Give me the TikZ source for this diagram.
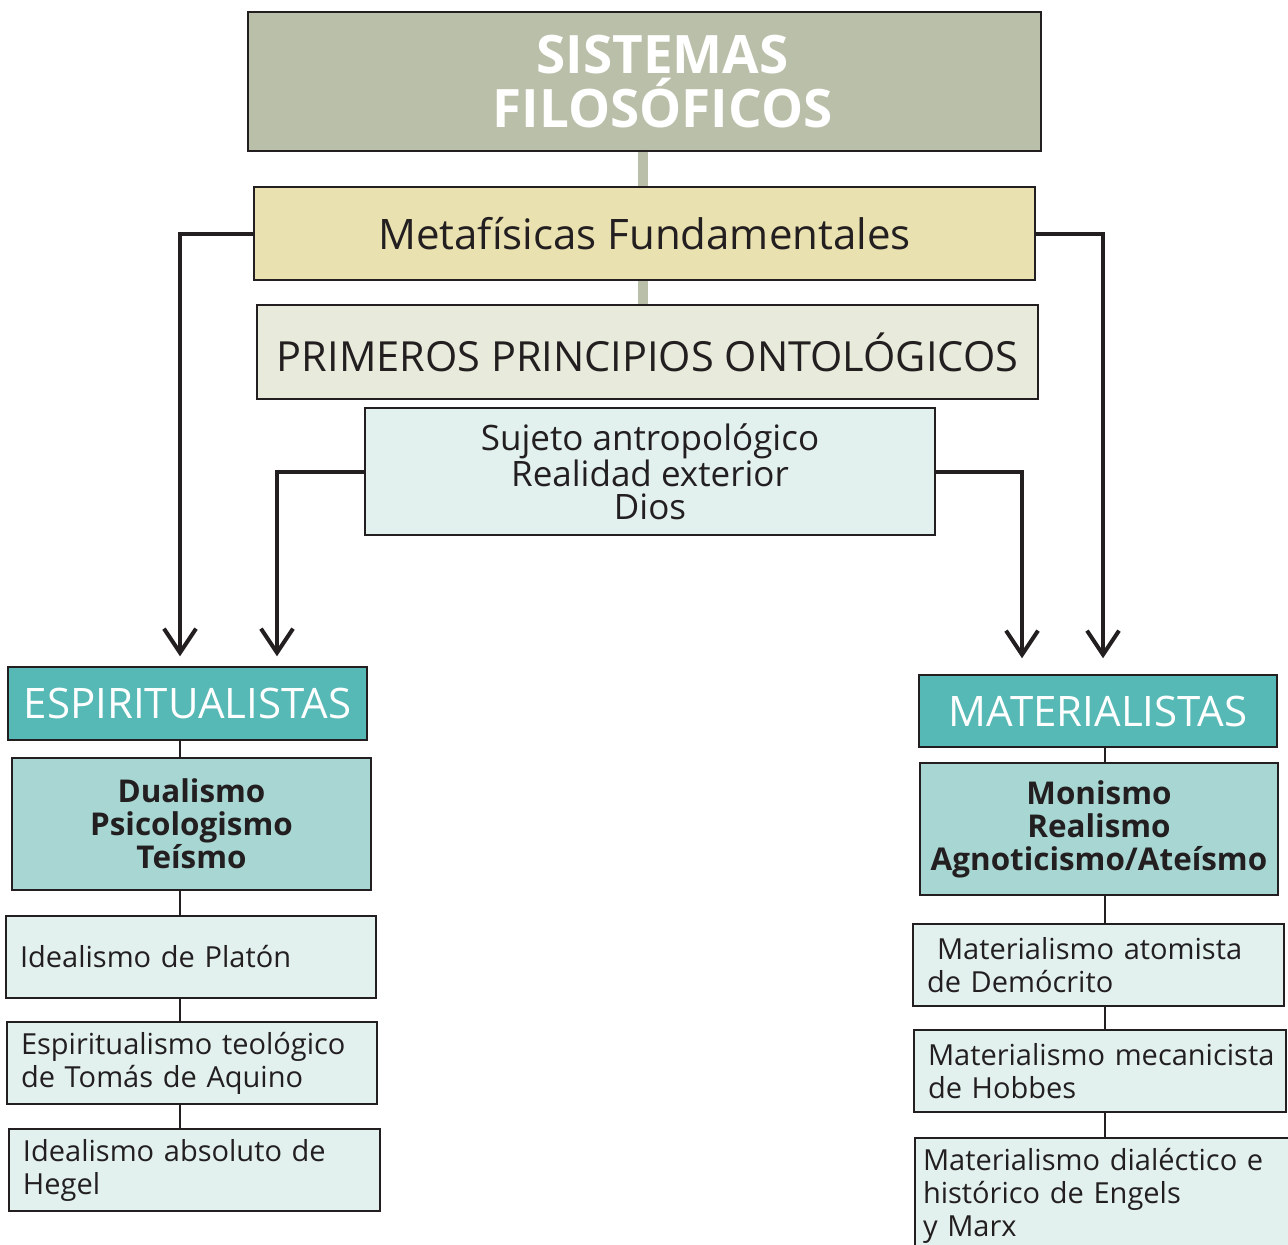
\documentclass[tikz,border=0pt]{standalone}
\usepackage{fontspec}
\setsansfont{Open Sans}
\usetikzlibrary{arrows.meta}
\definecolor{ink}{HTML}{231F20}
\definecolor{sage}{HTML}{B9BFA8}
\definecolor{straw}{HTML}{E9E1B0}
\definecolor{mist}{HTML}{E8EBDB}
\definecolor{foam}{HTML}{E2F1EE}
\definecolor{teal}{HTML}{56B9B5}
\definecolor{lightteal}{HTML}{A8D7D3}
\tikzset{
  box/.style = {draw=ink, line width=1.5pt, inner sep=0pt, align=center, text=ink},
  titlebox/.style = {box, fill=sage, text=white, font=\sffamily\bfseries\fontsize{53}{54}\selectfont},
  metabox/.style = {box, fill=straw, font=\sffamily\fontsize{42}{44}\selectfont},
  ontobox/.style = {box, fill=mist, font=\sffamily\fontsize{41.5}{44}\selectfont},
  topicbox/.style = {box, fill=foam, font=\sffamily\fontsize{35}{33}\selectfont},
  headbox/.style = {box, fill=teal, text=white, font=\sffamily\fontsize{42}{44}\selectfont},
  doctbox/.style = {box, fill=lightteal, font=\sffamily\bfseries\fontsize{31.4}{33}\selectfont},
  leafbox/.style = {box, fill=foam, align=left, inner xsep=14pt, minimum height=82pt, font=\sffamily\fontsize{29}{33}\selectfont},
  link/.style = {draw=ink, line width=2pt},
  spinebar/.style = {draw=sage, line width=10pt},
  arrow/.style = {draw=ink, line width=4pt, -{Straight Barb[length=24pt,width=32pt]}}
}
\begin{document}
\begin{tikzpicture}[x=1pt,y=-1pt]
\useasboundingbox (0,0) rectangle (1288,1245);
\clip (0,0) rectangle (1288,1245);

% Top of the chart
\node[titlebox, minimum width=793pt, minimum height=139pt] (sist) at (644.5,81.5) {\hspace*{36pt}SISTEMAS\\\hspace*{36pt}FILOSÓFICOS};
\node[metabox, minimum width=781pt, minimum height=93pt] (meta) at (644.5,233.5) {Metafísicas Fundamentales};
\node[ontobox, minimum width=781pt, minimum height=94pt] (onto) at (647.5,352) {PRIMEROS PRINCIPIOS ONTOLÓGICOS};
\node[topicbox, minimum width=570pt, minimum height=127pt] (topic) at (650,471.5) {Sujeto antropológico\\Realidad exterior\\Dios};

\coordinate (spine) at (643,0);
\draw[spinebar] (sist.south -| spine) -- (meta.north -| spine);
\draw[spinebar] (meta.south -| spine) -- (onto.north -| spine);

% Left column
\node[headbox, minimum width=359pt, minimum height=73pt] (esp) at (187.5,703.5) {ESPIRITUALISTAS};
\node[doctbox, minimum width=359pt, minimum height=132pt] (dual) at (191.5,824) {Dualismo\\Psicologismo\\Teísmo};
\node[leafbox, text width=342pt] (plat) at (191,957) {Idealismo de Platón};
\node[leafbox, text width=342pt] (tomas) at (192,1063) {Espiritualismo teológico\\de Tomás de Aquino};
\node[leafbox, text width=343pt] (hegel) at (194.5,1170) {Idealismo absoluto de\\Hegel};

\coordinate (lcol) at (180,0);
\draw[link] (esp.south -| lcol) -- (dual.north -| lcol);
\draw[link] (dual.south -| lcol) -- (plat.north -| lcol);
\draw[link] (plat.south -| lcol) -- (tomas.north -| lcol);
\draw[link] (tomas.south -| lcol) -- (hegel.north -| lcol);

% Right column
\node[headbox, minimum width=358pt, minimum height=72pt] (mat) at (1098,711) {MATERIALISTAS};
\node[doctbox, minimum width=358pt, minimum height=132pt] (mon) at (1099,829) {Monismo\\Realismo\\Agnoticismo/Ateísmo};
\node[leafbox, text width=343pt] (demo) at (1098.5,965) {\hspace{10pt}Materialismo atomista\\de Demócrito};
\node[leafbox, text width=350pt, inner xsep=11pt] (hobb) at (1100,1071) {\hspace{3pt}Materialismo mecanicista\\\hspace*{3pt}de Hobbes};
\node[leafbox, text width=364pt, inner xsep=8pt, minimum height=116pt] (engl) at (1105,1196) {Materialismo dialéctico e\\histórico de Engels\\y Marx};

\coordinate (rcol) at (1105,0);
\draw[link] (mat.south -| rcol) -- (mon.north -| rcol);
\draw[link] (mon.south -| rcol) -- (demo.north -| rcol);
\draw[link] (demo.south -| rcol) -- (hobb.north -| rcol);
\draw[link] (hobb.south -| rcol) -- (engl.north -| rcol);

% Arrows down to both columns
\draw[arrow, shorten >=10pt] (meta.west) -| (esp.north -| lcol);
\draw[arrow, shorten >=10pt] (topic.west) -| (esp.north -| 277,0);
\draw[arrow, shorten >=16pt] (meta.east) -| (mat.north -| 1103,0);
\draw[arrow, shorten >=16pt] (topic.east) -| (mat.north -| 1022,0);

\end{tikzpicture}
\end{document}
